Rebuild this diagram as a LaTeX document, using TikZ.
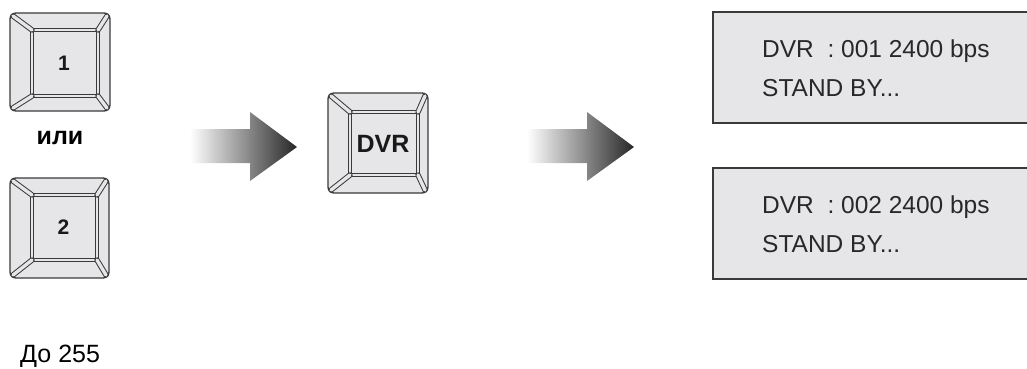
\documentclass[tikz,border=0pt]{standalone}
\usepackage{fontspec}
\setmainfont{Liberation Sans}
\definecolor{keygray}{RGB}{230,230,232}
\definecolor{edgegray}{RGB}{58,58,58}
\definecolor{txtgray}{RGB}{40,40,40}
\begin{document}
\begin{tikzpicture}[x=1pt, y=-1pt,
        keyframe/.style={fill=keygray, draw=edgegray, line width=1.3pt, rounded corners=6pt},
        keyface/.style={draw=edgegray, line width=0.7pt, double=keygray, double distance=1.8pt},
        bevelout/.style={draw=edgegray, line width=5.4pt, line cap=round},
        bevelin/.style={draw=keygray, line width=3.4pt, line cap=round},
        keylabel/.style={text=black!90, inner sep=0pt},
        arrowshade/.style={left color=white, right color=black!85},
        lcdfill/.style={fill=keygray},
        lcdedge/.style={draw=edgegray, line width=1.6pt},
        lcdtext/.style={text=txtgray, inner sep=0pt, anchor=base west, font=\fontsize{24.5}{24.5}\selectfont}]
    \useasboundingbox (0,0) rectangle (1027,368);
    \foreach \nm/\lbl/\sz/\ox/\oy/\OX/\OY/\ix/\iy/\IX/\IY in {
            keyone/1/21/10/13/110/111/32/30/98/96,
            keytwo/2/21/10/178/109/278/32/195/97/260,
            keydvr/DVR/25/328/93/428/193/350/112/418/175} {
        \draw[keyframe] (\ox,\oy) rectangle (\OX,\OY);
        \draw[keyface] (\ix,\iy) rectangle (\IX,\IY);
        \foreach \ax/\ay/\bx/\by in {\ox+3/\oy+3/\ix/\iy, \OX-3/\oy+3/\IX/\iy,
                \ox+3/\OY-3/\ix/\IY, \OX-3/\OY-3/\IX/\IY} {
            \draw[bevelout] (\ax,\ay) -- (\bx,\by);
            \draw[bevelin] (\ax,\ay) -- (\bx,\by);
        }
        \node[keylabel, font=\bfseries\fontsize{\sz}{\sz}\selectfont] (\nm) at ({(\ix+\IX)/2-1},{(\iy+\IY)/2}) {\lbl};
    }
    \node[inner sep=0pt, font=\bfseries\fontsize{25}{25}\selectfont] (ili) at (60,138) {или};
    \node[inner sep=0pt, anchor=base west, font=\fontsize{25}{25}\selectfont] (upto) at (20,362) {До 255};
    \foreach \ax in {190,527} {
        \shade[arrowshade] (\ax,129) -- (\ax+60,129) -- (\ax+60,112) -- (\ax+107,147)
            -- (\ax+60,181) -- (\ax+60,163) -- (\ax,163) -- cycle;
    }
    \foreach \ty/\num in {12/001,168/002} {
        \fill[lcdfill] (713,\ty) rectangle (1027,\ty+111);
        \draw[lcdedge] (1028,\ty) -| (713,\ty+111) -- (1028,\ty+111);
        \node[lcdtext] (dvr\num) at (762,\ty+45) {DVR\ \ : \num\ 2400 bps};
        \node[lcdtext] (stand\num) at (762,\ty+84) {STAND BY...};
    }
\end{tikzpicture}
\end{document}
